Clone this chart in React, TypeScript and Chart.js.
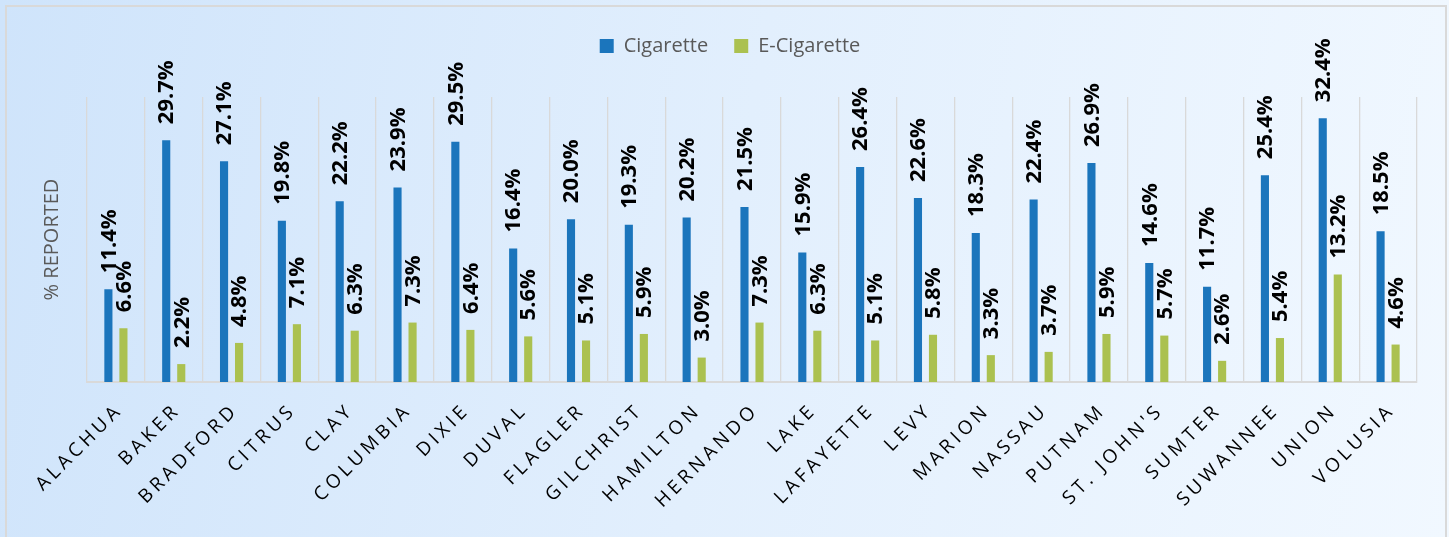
import React, { useEffect, useRef } from "react";
import { Chart, registerables } from "chart.js";

Chart.register(...registerables);

const counties = [
  "ALACHUA", "BAKER", "BRADFORD", "CITRUS", "CLAY", "COLUMBIA", "DIXIE", "DUVAL",
  "FLAGLER", "GILCHRIST", "HAMILTON", "HERNANDO", "LAKE", "LAFAYETTE", "LEVY",
  "MARION", "NASSAU", "PUTNAM", "ST. JOHN'S", "SUMTER", "SUWANNEE", "UNION", "VOLUSIA",
];
const cigarette = [
  11.4, 29.7, 27.1, 19.8, 22.2, 23.9, 29.5, 16.4, 20.0, 19.3, 20.2, 21.5, 15.9,
  26.4, 22.6, 18.3, 22.4, 26.9, 14.6, 11.7, 25.4, 32.4, 18.5,
];
const eCigarette = [
  6.6, 2.2, 4.8, 7.1, 6.3, 7.3, 6.4, 5.6, 5.1, 5.9, 3.0, 7.3, 6.3, 5.1, 5.8,
  3.3, 3.7, 5.9, 5.7, 2.6, 5.4, 13.2, 4.6,
];
const seriesNames = ["Cigarette", "E-Cigarette"];
const yAxisTitle = "% REPORTED";

const BLUE = "#1b75bc";
const GREEN = "#abc150";

const valueLabels = {
  id: "valueLabels",
  afterDatasetsDraw(chart: any) {
    const ctx = chart.ctx;
    ctx.save();
    ctx.font = "bold 22px 'Open Sans'";
    ctx.fillStyle = "#000";
    ctx.textAlign = "left";
    ctx.textBaseline = "middle";
    chart.data.datasets.forEach((ds: any, di: number) => {
      const meta = chart.getDatasetMeta(di);
      meta.data.forEach((bar: any, i: number) => {
        const v = ds.data[i];
        ctx.save();
        ctx.translate(bar.x + 1, bar.y - 16);
        ctx.rotate(-Math.PI / 2);
        ctx.fillText(v.toFixed(1) + "%", 0, 0);
        ctx.restore();
      });
    });
    ctx.restore();
  },
};

const extraDecor = {
  id: "extraDecor",
  beforeInit(chart: any) {
    const legend = chart.legend;
    if (legend) {
      const fit = legend.fit;
      legend.fit = function () {
        fit.call(this);
        this.height += 31;
      };
    }
  },
  afterDraw(chart: any) {
    const ctx = chart.ctx;
    const area = chart.chartArea;
    const xScale = chart.scales.x;
    ctx.save();
    // y axis title
    ctx.font = "20px 'Open Sans'";
    ctx.fillStyle = "#595959";
    ctx.textAlign = "center";
    ctx.textBaseline = "middle";
    ctx.translate(52, (area.top + area.bottom) / 2);
    ctx.rotate(-Math.PI / 2);
    ctx.fillText(yAxisTitle, 0, 0);
    ctx.restore();

    // x tick labels, rotated with letter spacing
    ctx.save();
    ctx.font = "19px 'Open Sans'";
    (ctx as any).letterSpacing = "4px";
    ctx.fillStyle = "#000";
    ctx.textAlign = "right";
    ctx.textBaseline = "middle";
    counties.forEach((name, i) => {
      const x = xScale.getPixelForValue(i);
      ctx.save();
      ctx.translate(x + 1, area.bottom + 28);
      ctx.rotate(-Math.PI / 4);
      ctx.fillText(name, 4, 0);
      ctx.restore();
    });
    ctx.restore();
  },
};

export default function App() {
  const ref = useRef<HTMLCanvasElement | null>(null);

  useEffect(() => {
    document.body.style.margin = "0";
    const canvas = ref.current;
    if (!canvas) return;
    const chart = new Chart(canvas, {
      type: "bar",
      data: {
        labels: counties,
        datasets: [
          {
            label: seriesNames[0],
            data: cigarette,
            backgroundColor: BLUE,
            categoryPercentage: 0.52,
            barPercentage: 0.54,
          },
          {
            label: seriesNames[1],
            data: eCigarette,
            backgroundColor: GREEN,
            categoryPercentage: 0.52,
            barPercentage: 0.54,
          },
        ],
      },
      options: {
        animation: false,
        responsive: false,
        maintainAspectRatio: false,
        layout: { padding: { left: 43, right: 32, top: 10, bottom: 155 } },
        plugins: {
          legend: {
            display: true,
            position: "top",
            labels: {
              boxWidth: 14,
              boxHeight: 14,
              padding: 26,
              color: "#595959",
              font: { family: "'Open Sans'", size: 20 },
            },
          },
          tooltip: { enabled: false },
        },
        scales: {
          x: {
            display: true,
            offset: true,
            ticks: { display: false },
            grid: {
              display: true,
              offset: true,
              drawTicks: false,
              color: "#d9d9d9",
              lineWidth: 1.3,
            },
            border: { display: true, color: "#d9d9d9", width: 2 },
          },
          y: {
            display: true,
            min: 0,
            max: 35,
            ticks: { display: false },
            grid: { display: false, drawTicks: false },
            border: { display: false },
            afterFit: (scale: any) => {
              scale.width = 44;
            },
          },
        },
      },
      plugins: [valueLabels, extraDecor],
    });
    return () => chart.destroy();
  }, []);

  return (
    <div
      style={{
        position: "fixed",
        left: 0,
        top: 0,
        width: 1449,
        height: 537,
        overflow: "hidden",
        background: "linear-gradient(100deg, #cfe4fb 0%, #e2effd 50%, #f1f8ff 100%)",
      }}
    >
      <div
        style={{
          position: "absolute",
          left: 5,
          top: 5,
          width: 1438,
          height: 560,
          border: "2px solid #d9d9d9",
        }}
      />
      <canvas
        ref={ref}
        width={1449}
        height={537}
        style={{ position: "absolute", left: 0, top: 0, width: 1449, height: 537 }}
      />
    </div>
  );
}
